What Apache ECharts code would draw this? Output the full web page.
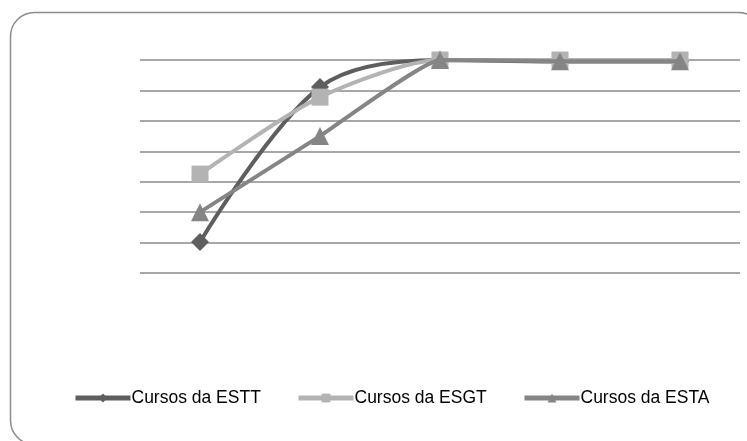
<!DOCTYPE html>
<html>
<head>
<meta charset="utf-8">
<script src="https://cdn.jsdelivr.net/npm/echarts@6/dist/echarts.min.js"></script>
<style>
  html, body { margin: 0; padding: 0; background: #ffffff; }
  #chart { width: 747px; height: 441px; }
</style>
</head>
<body>
<div id="chart"></div>
<script>
// Categories (unlabelled stages along the horizontal axis)
const categories = ['1', '2', '3', '4', '5'];

// Series values (percent)
const seriesNames = ['Cursos da ESTT', 'Cursos da ESGT', 'Cursos da ESTA'];
const valuesESTT = [40.2, 91.1, 100, 99.5, 99.5];
const valuesESGT = [62.5, 87.8, 100, 100, 100];
const valuesESTA = [50, 75, 100, 99.6, 99.6];

// Value axis range (no tick labels drawn)
const yMin = 30;
const yMax = 100;
const yStep = 10;

const colors = ['#5e5e5e', '#b3b3b3', '#858585'];
const symbols = ['diamond', 'rect', 'triangle'];
const symbolSizes = [18, 17, 18];
const smoothness = [0.33, 0.25, 0.12];
const legendLefts = [73, 296, 522];

const chart = echarts.init(document.getElementById('chart'), null, { renderer: 'canvas' });

const allValues = [valuesESTT, valuesESGT, valuesESTA];

const series = seriesNames.map((name, i) => ({
  name: name,
  type: 'line',
  data: allValues[i],
  smooth: smoothness[i],
  symbol: symbols[i],
  symbolSize: symbolSizes[i],
  showSymbol: true,
  lineStyle: { color: colors[i], width: 4 },
  itemStyle: { color: colors[i] },
  z: 2 + i
}));

const legends = seriesNames.map((name, i) => ({
  data: [name],
  left: legendLefts[i],
  top: 389,
  padding: 0,
  orient: 'horizontal',
  itemWidth: 55,
  itemHeight: 11,
  itemGap: 0,
  lineStyle: { width: 5 },
  textStyle: {
    fontFamily: 'Liberation Sans',
    fontSize: 17.5,
    color: '#000000',
    padding: [0, 0, 0, -4]
  }
}));

chart.setOption({
  animation: false,
  backgroundColor: '#ffffff',
  color: colors,
  graphic: [{
    type: 'rect',
    shape: { x: 10.5, y: 12.5, width: 752, height: 432, r: 24 },
    style: { fill: 'none', stroke: '#8c8c8c', lineWidth: 1.5 },
    silent: true,
    z: -10
  }],
  legend: legends,
  grid: { left: 140, right: 7, top: 60, bottom: 168 },
  xAxis: {
    type: 'category',
    data: categories,
    boundaryGap: true,
    axisLine: { show: false },
    axisTick: { show: false },
    axisLabel: { show: false },
    splitLine: { show: false }
  },
  yAxis: {
    type: 'value',
    min: yMin,
    max: yMax,
    interval: yStep,
    axisLine: { show: false },
    axisTick: { show: false },
    axisLabel: { show: false },
    splitLine: { show: true, lineStyle: { color: '#8a8a8a', width: 1.5 } }
  },
  series: series
});
</script>
</body>
</html>
